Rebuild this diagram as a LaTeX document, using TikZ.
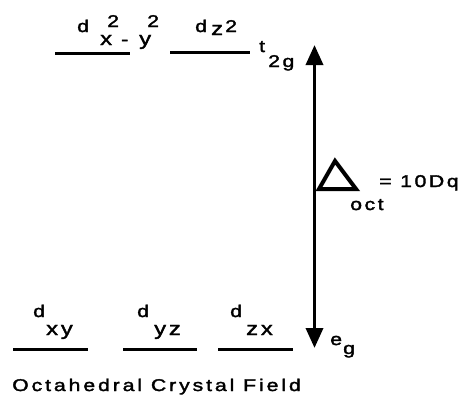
\documentclass[tikz,border=0pt]{standalone}
\usepackage{fontspec}
\setmainfont{Liberation Sans}[FakeStretch=1.25,LetterSpace=15,FakeBold=2]
\newfontfamily\capfont{Liberation Sans}[FakeStretch=1.25,LetterSpace=17,FakeBold=2]
\usetikzlibrary{arrows.meta}
\begin{document}
\begin{tikzpicture}[x=1pt,y=-1pt,
  txt/.style={inner sep=0pt, anchor=base west, font=\fontsize{17}{17}\selectfont},
  sub/.style={inner sep=0pt, anchor=base west, font=\fontsize{19}{19}\selectfont},
  level/.style={line width=3pt},
  dbl/.style={line width=3.5pt, arrows={Triangle[width=17pt,length=20pt]-Triangle[width=17pt,length=20pt]}}]
\useasboundingbox (0,0) rectangle (465,397);
% top levels
\coordinate (a1) at (55,53.5); \coordinate (a2) at (130,53.5);
\coordinate (b1) at (170,52.5); \coordinate (b2) at (250,52.5);
\draw[level] (a1) -- (a2);
\draw[level] (b1) -- (b2);
% bottom levels
\coordinate (c1) at (13,349); \coordinate (c2) at (88,349);
\coordinate (d1) at (123,349); \coordinate (d2) at (197,349);
\coordinate (e1) at (218,349); \coordinate (e2) at (293,349);
\draw[level] (c1) -- (c2);
\draw[level] (d1) -- (d2);
\draw[level] (e1) -- (e2);
% top labels
\node[txt] (dA) at (77,32) {d};
\node[sub] (xA) at (100,45) {x};
\node[txt] (mA) at (121,45) {-};
\node[sub] (yA) at (139,45) {y};
\node[txt] (sA) at (107,27) {2};
\node[txt] (sB) at (147,27) {2};
\node[txt] (dB) at (195,32) {d};
\node[sub] (zB) at (211,35) {z};
\node[txt] (sC) at (225,32) {2};
\node[txt] (tT) at (259,52) {t};
\node[txt] (tS) at (268,67) {2g};
% bottom labels
\node[txt] (d1l) at (33,317) {d};
\node[sub] (s1l) at (46,335) {xy};
\node[txt] (d2l) at (137,317) {d};
\node[sub] (s2l) at (154,335) {yz};
\node[txt] (d3l) at (230,317) {d};
\node[sub] (s3l) at (246,335) {zx};
\node[txt] (eE) at (330,345) {e};
\node[txt] (eG) at (343,354) {g};
% arrow
\coordinate (top) at (314.5,45);
\coordinate (bot) at (314.5,348);
\draw[dbl] (top) -- (bot);
% Delta
\coordinate (T1) at (335,161); \coordinate (T2) at (319,189); \coordinate (T3) at (356,189);
\draw[line width=4pt, line join=miter] (T1) -- (T2) -- (T3) -- cycle;
\node[txt] (eq) at (379,187) {=};
\node[txt] (val) at (400,187) {10Dq};
\node[txt] (oct) at (350,210) {oct};
% caption
\node[inner sep=0pt, anchor=base west, font=\capfont\fontsize{17}{17}\selectfont] (cap) at (12,391) {Octahedral Crystal Field};
\end{tikzpicture}
\end{document}
